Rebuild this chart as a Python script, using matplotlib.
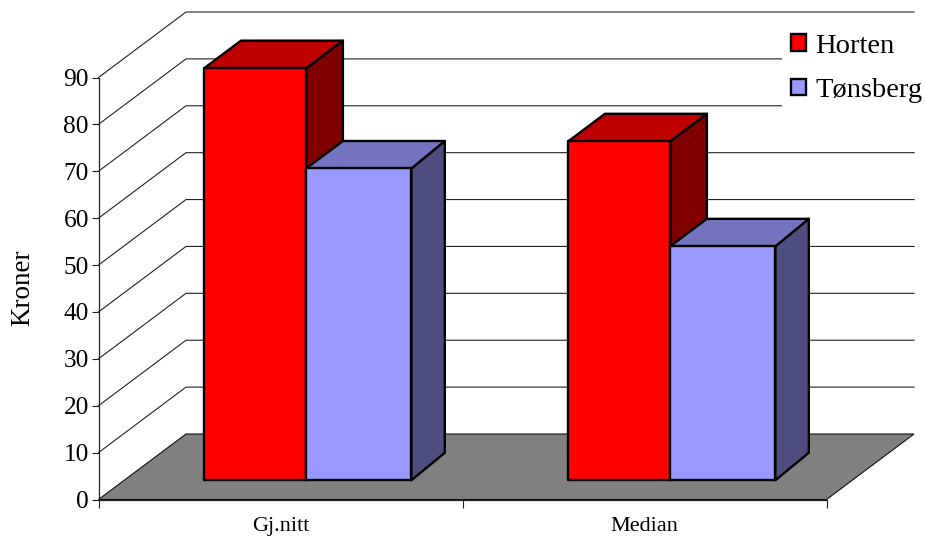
import matplotlib
matplotlib.use("Agg")
import matplotlib.pyplot as plt
from matplotlib.patches import Polygon, Patch

plt.rcParams['font.family'] = ['Liberation Serif', 'DejaVu Serif']

categories = ["Gj.nitt", "Median"]
series_names = ["Horten", "Tønsberg"]
horten = [87.9, 72.3]
tonsberg = [66.5, 49.9]
yticks = list(range(0, 100, 10))

W, H = 925, 536
fig = plt.figure(figsize=(W / 100, H / 100), dpi=100, facecolor='white')
L, R, B, T = 98.5, 826.5, 499.5, 77.5
ax = fig.add_axes([L / W, 1 - B / H, (R - L) / W, (B - T) / H])
ax.set_xlim(0, 2)
ax.set_ylim(0, 90)
ax.patch.set_visible(False)

# oblique projection: depth 0 = front plane, depth 1 = back wall
DX = 87.5 / 364.0
DY = 65.5 / (422.0 / 90)


def pt(x, y, d):
    return (x + d * DX, y + d * DY)


GRID = '#222222'
# floor
ax.add_patch(Polygon([pt(0, 0, 0), pt(0, 0, 1), pt(2, 0, 1), pt(2, 0, 0)], closed=True,
                     facecolor='#808080', edgecolor='#111111', lw=0.8, clip_on=False, zorder=1))
# gridlines on side and back walls
for v in yticks[1:]:
    a, b, c = pt(0, v, 0), pt(0, v, 1), pt(2, v, 1)
    ax.plot([a[0], b[0], c[0]], [a[1], b[1], c[1]], color=GRID, lw=0.8, clip_on=False,
            zorder=1, solid_joinstyle='miter')

# bars
d0, d1 = 0.293, 0.713
widths = [0.280, 0.289]
back_trim = [0.0, 0.009]
styles = [("#FF0000", "#BF0000", "#800000"), ("#9999FF", "#7373BF", "#4D4D80")]
edge = dict(edgecolor='black', lw=1.7, clip_on=False, joinstyle='round')
z = 2
for s, vals in enumerate([horten, tonsberg]):
    front, top, side = styles[s]
    for i, v in enumerate(vals):
        centre = i + 0.5
        x0 = centre - widths[0] if s == 0 else centre
        x1 = x0 + widths[s]
        xb = x1 - back_trim[s]
        ax.add_patch(Polygon([pt(x1, 0, d0), pt(xb, 0, d1), pt(xb, v, d1), pt(x1, v, d0)],
                             closed=True, facecolor=side, zorder=z, **edge))
        ax.add_patch(Polygon([pt(x0, v, d0), pt(x0, v, d1), pt(xb, v, d1), pt(x1, v, d0)],
                             closed=True, facecolor=top, zorder=z, **edge))
        ax.add_patch(Polygon([pt(x0, 0, d0), pt(x1, 0, d0), pt(x1, v, d0), pt(x0, v, d0)],
                             closed=True, facecolor=front, zorder=z + 0.1, **edge))
    z += 1

# axes
for sp in ('top', 'right'):
    ax.spines[sp].set_visible(False)
for sp in ('left', 'bottom'):
    ax.spines[sp].set_color('#222222')
    ax.spines[sp].set_linewidth(0.9)
    ax.spines[sp].set_zorder(6)
ax.set_yticks(yticks)
ax.tick_params(axis='y', length=5.4, width=0.8, color='#222222', labelsize=18.3, pad=1.5)
ax.set_xticks([0, 1, 2])
ax.set_xticklabels([])
ax.set_xticks([0.5, 1.5], minor=True)
ax.set_xticklabels(categories, minor=True)
ax.tick_params(axis='x', which='major', length=5.4, width=0.8, color='#222222')
ax.tick_params(axis='x', which='minor', length=0, labelsize=16, pad=12.5)
ax.set_ylabel("Kroner", fontsize=19.5)
ax.yaxis.set_label_coords(35 / W, 1 - 288 / H, transform=fig.transFigure)

# legend
handles = [Patch(facecolor=styles[i][0], edgecolor='black', lw=1.7, label=series_names[i])
           for i in range(2)]
leg = ax.legend(handles=handles, loc='upper left', bbox_to_anchor=(782 / W, 1 - 25 / H),
                bbox_transform=fig.transFigure, frameon=True, facecolor='white',
                edgecolor='none', fancybox=False, framealpha=1, fontsize=20.5,
                handlelength=0.52, handleheight=0.52, handletextpad=0.34,
                labelspacing=0.68, borderpad=0.31, borderaxespad=0)
leg.set_zorder(1.5)

fig.savefig("out.png", dpi=100, facecolor='white')
